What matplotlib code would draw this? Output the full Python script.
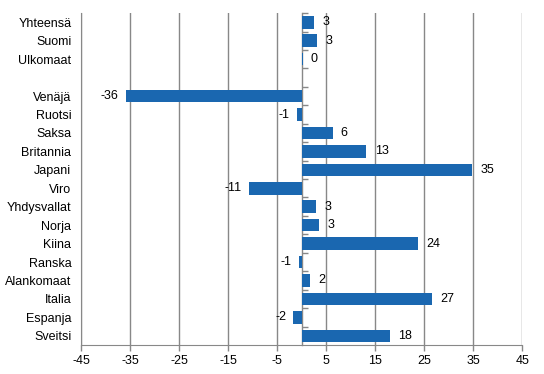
import matplotlib.pyplot as plt

# Datos
categorias = ['Yhteensä', 'Suomi', 'Ulkomaat', '', 'Venäjä', 'Ruotsi', 'Saksa',
              'Britannia', 'Japani', 'Viro', 'Yhdysvallat', 'Norja', 'Kiina',
              'Ranska', 'Alankomaat', 'Italia', 'Espanja', 'Sveitsi']
valores = [2.6, 3.2, 0.2, None, -35.9, -1.0, 6.3, 13.2, 34.8, -10.8, 2.9, 3.6,
           23.7, -0.6, 1.8, 26.5, -1.7, 18.0]
etiquetas = ['3', '3', '0', '', '-36', '-1', '6', '13', '35', '-11', '3', '3',
             '24', '-1', '2', '27', '-2', '18']
xticks = [-45, -35, -25, -15, -5, 5, 15, 25, 35, 45]

plt.rcParams['font.family'] = ['Liberation Sans', 'DejaVu Sans']
tam = 9

fig = plt.figure(figsize=(5.44, 3.74), dpi=100)
ax = fig.add_axes([0.149, 0.0775, 0.811, 0.8875])

gris = '#888888'
azul = '#1a67b0'

pos = list(range(len(categorias)))
for i, v in enumerate(valores):
    if v is None:
        continue
    ax.barh(i, v, height=0.68, color=azul, zorder=3)
    if v >= 0:
        ax.annotate(etiquetas[i], (v, i), xytext=(6, 0), textcoords='offset points',
                    ha='left', va='center', fontsize=tam, zorder=4)
    else:
        ax.annotate(etiquetas[i], (v, i), xytext=(-5, 0), textcoords='offset points',
                    ha='right', va='center', fontsize=tam, zorder=4)

ax.set_xlim(-45, 45)
ax.set_ylim(len(categorias) - 0.5, -0.5)
ax.set_xticks(xticks)
ax.set_xticklabels([str(t) for t in xticks], fontsize=tam)
ax.set_yticks(pos)
ax.set_yticklabels(categorias, fontsize=tam)
ax.tick_params(axis='y', length=0, pad=7)
ax.tick_params(axis='x', length=4, color=gris, width=1, pad=3)

ax.grid(axis='x', color=gris, linewidth=1, zorder=0)
for s in ['top', 'right']:
    ax.spines[s].set_visible(False)
ax.spines['left'].set_color(gris)
ax.spines['bottom'].set_color(gris)

# Eje vertical en cero con marcas entre categorías
eje0 = ax.secondary_yaxis(0.5)
eje0.set_yticks([p + 0.5 for p in pos[:-1]] + [-0.5])
eje0.set_yticklabels([])
eje0.tick_params(length=4, color=gris, width=1)
for s in eje0.spines.values():
    s.set_color(gris)
    s.set_linewidth(1)

plt.savefig('out.png', dpi=100)
